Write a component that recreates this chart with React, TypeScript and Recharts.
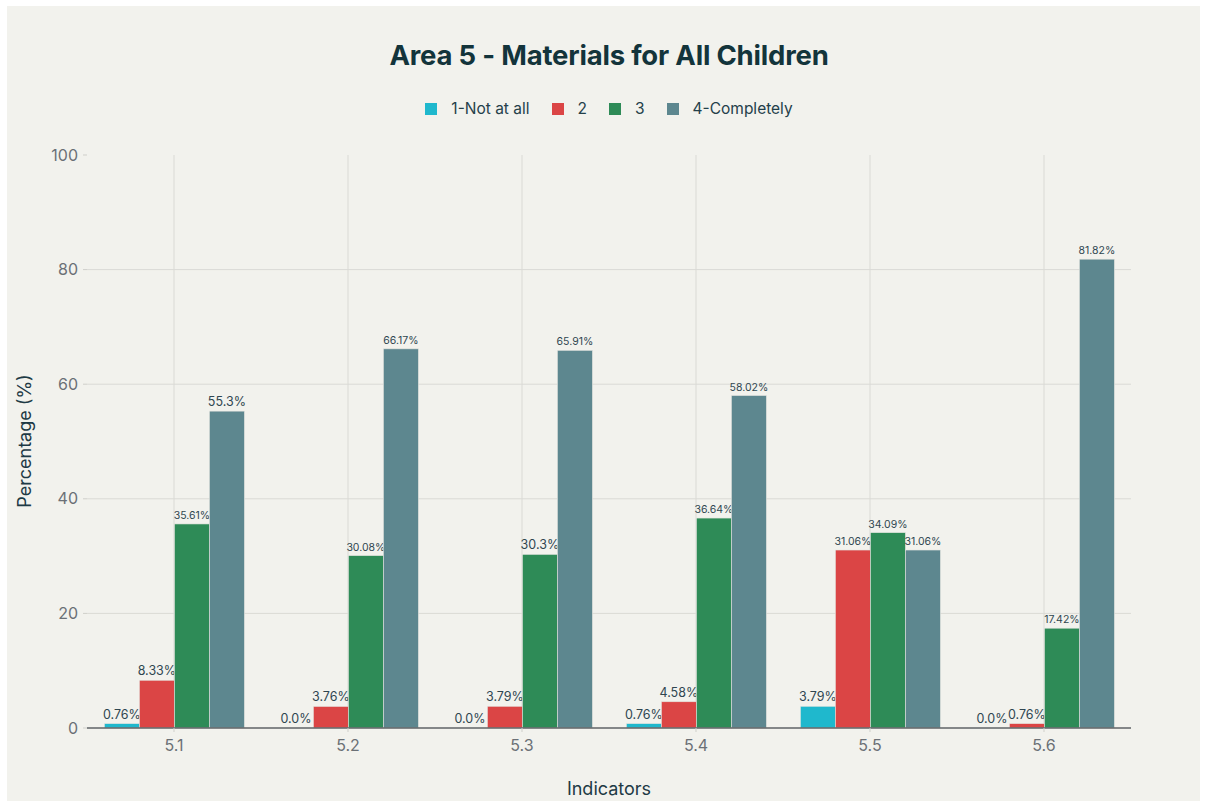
import React from 'react';
import { BarChart, Bar, XAxis, YAxis, CartesianGrid } from 'recharts';

const indicators = ['5.1', '5.2', '5.3', '5.4', '5.5', '5.6'];
const notAtAll = [0.76, 0.0, 0.0, 0.76, 3.79, 0.0];
const level2 = [8.33, 3.76, 3.79, 4.58, 31.06, 0.76];
const level3 = [35.61, 30.08, 30.3, 36.64, 34.09, 17.42];
const completely = [55.3, 66.17, 65.91, 58.02, 31.06, 81.82];
const yTicks = [0, 20, 40, 60, 80, 100];

const SERIES = [
  { key: 'notAtAll', name: '1-Not at all', color: '#1fb8cd', values: notAtAll },
  { key: 'level2', name: '2', color: '#db4545', values: level2 },
  { key: 'level3', name: '3', color: '#2e8b57', values: level3 },
  { key: 'completely', name: '4-Completely', color: '#5d878f', values: completely },
];

const FONT = 'Inter, "Noto Sans", sans-serif';
const BG = '#f2f2ed';

const chartData = indicators.map((ind, i) => {
  const row: Record<string, string | number> = { indicator: ind };
  SERIES.forEach((s) => {
    row[s.key] = s.values[i];
  });
  return row;
});

const fmt = (v: number) => (Number.isInteger(v) ? v.toFixed(1) : String(v)) + '%';

// bar plus its value text; zero bars still get their "0.0%" text
const BarWithValue = (props: any) => {
  const { x, y, width, height, fill, value } = props;
  const v = Array.isArray(value) ? value[1] - value[0] : Number(value);
  const text = fmt(v);
  const size = text.length > 5 ? 10.5 : 12.5;
  const h = Math.abs(Number(height) || 0);
  return (
    <g>
      {h > 0 && (
        <rect x={x} y={y} width={width} height={h} fill={fill} stroke="#e4e4df" strokeWidth={0.6} />
      )}
      <text
        x={Number(x) + Number(width) / 2}
        y={Number(y) - 5}
        textAnchor="middle"
        fontSize={size}
        fontFamily={FONT}
        fill="#2f4650"
      >
        {text}
      </text>
    </g>
  );
};

// vertical grid lines only at the category centres (band middles of the plot area)
const centreLines = ({ offset }: any) =>
  indicators.map((_, i) => offset.left + (offset.width * (i + 0.5)) / indicators.length);

export default function App() {
  return (
    <div
      style={{
        position: 'absolute',
        left: 7,
        top: 6,
        width: 1193,
        height: 795,
        background: BG,
        fontFamily: FONT,
      }}
    >
      <div
        style={{
          position: 'absolute',
          left: 80,
          width: 1044,
          top: 32,
          textAlign: 'center',
          fontSize: 27.5,
          fontWeight: 700,
          color: '#13343b',
          letterSpacing: -0.2,
        }}
      >
        Area 5 - Materials for All Children
      </div>
      <div
        style={{
          position: 'absolute',
          left: 80,
          width: 1044,
          top: 93,
          display: 'flex',
          justifyContent: 'center',
          gap: 22,
          fontSize: 15.5,
          color: '#24404a',
        }}
      >
        {SERIES.map((s) => (
          <div key={s.key} style={{ display: 'flex', alignItems: 'center' }}>
            <span
              style={{ width: 12, height: 12, background: s.color, marginRight: 14, display: 'inline-block', flexShrink: 0 }}
            />
            <span>{s.name}</span>
          </div>
        ))}
      </div>
      <div
        style={{
          position: 'absolute',
          left: 17,
          top: 435,
          transform: 'translate(-50%, -50%) rotate(-90deg)',
          fontSize: 18,
          color: '#1e3a45',
          whiteSpace: 'nowrap',
        }}
      >
        Percentage (%)
      </div>
      <div
        style={{
          position: 'absolute',
          left: 80,
          width: 1044,
          top: 772,
          textAlign: 'center',
          fontSize: 18,
          color: '#1e3a45',
        }}
      >
        Indicators
      </div>
      <BarChart
        width={1193}
        height={795}
        data={chartData}
        margin={{ top: 149, right: 69, bottom: 13, left: 20 }}
        barCategoryGap="10%"
        barGap={0}
        style={{ position: 'absolute', left: 0, top: 0 }}
      >
        <CartesianGrid
          stroke="#dadad5"
          horizontalValues={[20, 40, 60, 80]}
          verticalCoordinatesGenerator={centreLines}
        />
        <XAxis
          dataKey="indicator"
          height={60}
          tick={{ fill: '#6b7076', fontSize: 16, fontFamily: FONT }}
          tickSize={4}
          tickMargin={8}
          tickLine={{ stroke: '#cfcfca' }}
          axisLine={{ stroke: '#5f6366', strokeWidth: 1.5 }}
        />
        <YAxis
          width={60}
          domain={[0, 100]}
          ticks={yTicks}
          tick={{ fill: '#6b7076', fontSize: 16, fontFamily: FONT }}
          tickSize={4}
          tickMargin={5}
          tickLine={{ stroke: '#cfcfca' }}
          axisLine={false}
        />
        {SERIES.map((s) => (
          <Bar
            key={s.key}
            dataKey={s.key}
            name={s.name}
            fill={s.color}
            shape={<BarWithValue />}
            isAnimationActive={false}
          />
        ))}
      </BarChart>
    </div>
  );
}
